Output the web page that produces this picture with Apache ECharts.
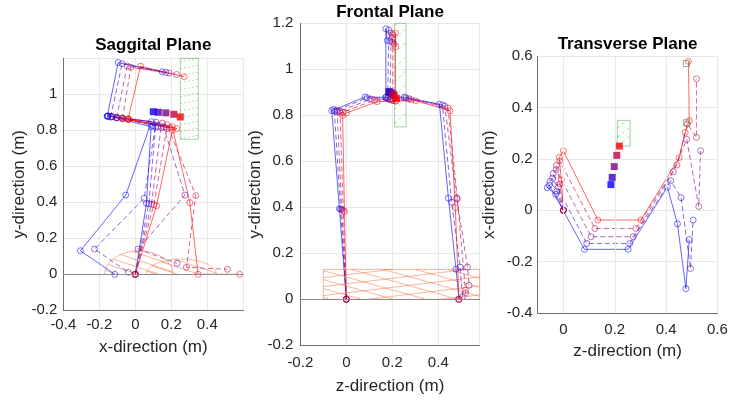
<!DOCTYPE html>
<html>
<head>
<meta charset="utf-8">
<script src="https://cdn.jsdelivr.net/npm/echarts@6/dist/echarts.min.js"></script>
<style>
  html, body { margin: 0; padding: 0; background: #fff; }
  #chart { width: 730px; height: 401px; }
</style>
</head>
<body>
<div id="chart"></div>
<script>
// Joint positions for five gait frames, each entry is [x, y, z] in metres.
const footL = [[0, 0, 0], [0, 0, 0], [0, 0, 0], [0, 0, 0], [0, 0, 0]];
const kneeL = [[0.062, 0.394, -0.030], [0.075, 0.392, -0.025], [0.090, 0.390, -0.020], [0.103, 0.387, -0.013], [0.118, 0.381, -0.008]];
const hipL = [[0.088, 0.820, -0.063], [0.113, 0.818, -0.052], [0.143, 0.815, -0.040], [0.175, 0.810, -0.027], [0.206, 0.800, -0.016]];
const hipL2 = [[0.098, 0.826, -0.055], [0.125, 0.822, -0.042], [0.158, 0.818, -0.028], [0.192, 0.814, -0.014], [0.231, 0.810, 0.000]];
const pelvisL = [[-0.152, 0.880, 0.082], [-0.129, 0.876, 0.091], [-0.103, 0.871, 0.108], [-0.071, 0.866, 0.123], [-0.038, 0.859, 0.134]];
const pelvisC = [[-0.156, 0.878, 0.172], [-0.137, 0.874, 0.180], [-0.104, 0.869, 0.190], [-0.071, 0.865, 0.202], [-0.040, 0.862, 0.215]];
const pelvisR = [[-0.152, 0.879, 0.252], [-0.129, 0.876, 0.259], [-0.103, 0.872, 0.272], [-0.071, 0.868, 0.282], [-0.038, 0.863, 0.302]];
const hipR = [[0.090, 0.848, 0.405], [0.115, 0.845, 0.418], [0.150, 0.840, 0.428], [0.176, 0.832, 0.442], [0.205, 0.820, 0.451]];
const kneeR = [[-0.053, 0.440, 0.444], [0.049, 0.422, 0.458], [0.276, 0.440, 0.480], [0.336, 0.437, 0.483], [0.303, 0.398, 0.474]];
const ankleR = [[-0.305, 0.131, 0.477], [-0.227, 0.140, 0.495], [0.015, 0.140, 0.527], [0.284, 0.039, 0.518], [0.349, 0.000, 0.490]];
const toeR = [[-0.114, 0.000, 0.490], [-0.038, 0.011, 0.505], [0.232, 0.061, 0.534], [0.512, 0.028, 0.518], [0.580, 0.000, 0.487]];
const trunkBack = [[-0.095, 1.176, 0.172], [-0.073, 1.170, 0.185], [-0.045, 1.157, 0.195], [-0.025, 1.150, 0.203], [0.029, 1.156, 0.213]];
const trunkFront = [[0.150, 1.125, 0.178], [0.169, 1.122, 0.190], [0.188, 1.118, 0.200], [0.229, 1.110, 0.208], [0.272, 1.098, 0.215]];

// Centre of mass per frame [x, y, z]
const comPos = [[0.100, 0.903, 0.185], [0.128, 0.900, 0.190], [0.170, 0.897, 0.198], [0.214, 0.889, 0.208], [0.250, 0.874, 0.218]];

// Foot targets seen from above [x, y, z]
const footTargets = [[0.571, 0, 0.479], [0.341, 0, 0.479]];

// Obstacle box and swing-foot envelope
const boxX = [0.25, 0.35];
const boxY = [0.75, 1.2];
const boxZ = [0.21, 0.26];
const sweepZ = [-0.1, 0.58];
const sweepY = [0, 0.13];
// swing arcs in the sagittal view: [centre x, half width, height]
const swingArcs = [[0.02, 0.19, 0.13], [0.255, 0.195, 0.085]];

// Axis ticks
const tickStep = 0.2;
const transGridZ = [0, 0.2, 0.4, 0.6];

const FRAME_COLORS = ['#0000ff', '#4000bf', '#800080', '#bf0040', '#ff0000'];
const FONT = '"Liberation Sans", Arial, Helvetica, sans-serif';
const TXT = '#262626';

const joints = {
  footL, kneeL, hipL, hipL2, pelvisL, pelvisC, pelvisR, hipR, kneeR, ankleR, toeR, trunkBack, trunkFront
};
const legChain = ['footL', 'kneeL', 'hipL', 'hipL2', 'pelvisL', 'pelvisC', 'pelvisR', 'hipR', 'kneeR', 'ankleR', 'toeR'];
const trunkChain = ['pelvisC', 'trunkBack', 'trunkFront'];
const topChain = ['footL', 'kneeL', 'hipL', 'hipL2', 'pelvisL', 'pelvisR', 'hipR', 'kneeR', 'ankleR', 'toeR'];

const VIEWS = {
  sag: p => [p[0], p[1]],
  fro: p => [p[2], p[1]],
  tra: p => [p[2], p[0]]
};

function tickFmt(v) {
  const k = v / tickStep;
  if (Math.abs(k - Math.round(k)) > 1e-6) return '';
  const r = Math.round(v * 10) / 10;
  return String(r === 0 ? 0 : r);
}

function makeAxis(g, min, max, interval, name, gap, margin, extra) {
  return Object.assign({
    gridIndex: g, type: 'value', min, max, interval,
    name, nameLocation: 'middle', nameGap: gap,
    nameTextStyle: { fontSize: 17, color: TXT, fontFamily: FONT },
    axisLine: { show: true, onZero: false, lineStyle: { color: '#6e6e6e', width: 1 } },
    axisTick: { show: false },
    splitLine: { show: true, lineStyle: { color: '#e8e8e8', width: 1 } },
    axisLabel: { formatter: tickFmt, fontSize: 15, color: TXT, fontFamily: FONT, margin }
  }, extra || {});
}

function chainSeries(chain, frame, view, g) {
  const c = FRAME_COLORS[frame];
  const dashed = frame > 0 && frame < 4;
  return {
    type: 'line', xAxisIndex: g, yAxisIndex: g, silent: true, clip: false,
    data: chain.map(j => VIEWS[view](joints[j][frame])),
    symbol: 'circle', symbolSize: 6, showSymbol: true, z: 3,
    lineStyle: { color: c, width: 1, opacity: 0.6, type: dashed ? [5, 3] : 'solid' },
    itemStyle: { color: 'rgba(0,0,0,0)', borderColor: c, borderWidth: 0.9, opacity: 0.6 }
  };
}

// Hatch lines clipped to a region, computed in pixel space
function hatch(inside, bx0, by0, bx1, by1, slope, spacing) {
  const segs = [];
  const span = Math.abs(slope) * (bx1 - bx0);
  for (let c = by0 - span - spacing; c <= by1 + span + spacing; c += spacing) {
    let run = null;
    for (let x = bx0; x <= bx1 + 0.01; x += 0.5) {
      const y = c + slope * (x - bx0);
      if (inside(x, y)) {
        if (!run) run = [[x, y], [x, y]]; else run[1] = [x, y];
      } else if (run) { segs.push(run); run = null; }
    }
    if (run) segs.push(run);
  }
  return segs;
}

function segShapes(segs, stroke, dash) {
  return segs.map(s => ({
    type: 'polyline', shape: { points: s },
    style: { stroke, fill: 'none', lineWidth: 1, lineDash: dash || null }
  }));
}

function boxRender(xr, yr, stroke, families) {
  return function (params, api) {
    const p0 = api.coord([xr[0], yr[1]]);
    const p1 = api.coord([xr[1], yr[0]]);
    const inside = (x, y) => x >= p0[0] && x <= p1[0] && y >= p0[1] && y <= p1[1];
    let children = [{
      type: 'rect', shape: { x: p0[0], y: p0[1], width: p1[0] - p0[0], height: p1[1] - p0[1] },
      style: { stroke, fill: 'none', lineWidth: 1 }
    }];
    families.forEach(f => {
      children = children.concat(segShapes(hatch(inside, p0[0], p0[1], p1[0], p1[1], f.slope, f.spacing), f.color || stroke, f.dash));
    });
    return { type: 'group', children };
  };
}

const ORANGE = 'rgba(240,110,60,0.5)';
const GREEN = 'rgba(70,170,70,0.5)';

function arcsRender(params, api) {
  let children = [];
  swingArcs.forEach(a => {
    const c = api.coord([a[0], 0]);
    const rx = Math.abs(api.coord([a[0] + a[1], 0])[0] - c[0]);
    const ry = Math.abs(api.coord([a[0], a[2]])[1] - c[1]);
    const pts = [];
    for (let i = 0; i <= 60; i++) {
      const t = Math.PI * i / 60;
      pts.push([c[0] - rx * Math.cos(t), c[1] - ry * Math.sin(t)]);
    }
    children.push({ type: 'polyline', shape: { points: pts }, style: { stroke: ORANGE, fill: 'none', lineWidth: 1 } });
    const inside = (x, y) => y <= c[1] && ((x - c[0]) / rx) ** 2 + ((y - c[1]) / ry) ** 2 <= 1;
    children = children.concat(segShapes(hatch(inside, c[0] - rx, c[1] - ry, c[0] + rx, c[1], 0.33, 7), ORANGE));
  });
  return { type: 'group', children };
}

function customSeries(g, renderItem) {
  return { type: 'custom', xAxisIndex: g, yAxisIndex: g, silent: true, z: 1, data: [[0, 0]], renderItem };
}

function gridLinesSeries(g, axisKey, values, color, z) {
  return {
    type: 'line', xAxisIndex: g, yAxisIndex: g, data: [], silent: true, z: z || 0,
    markLine: {
      silent: true, symbol: 'none', label: { show: false }, animation: false,
      lineStyle: { color, type: 'solid', width: 1 },
      data: values.map(v => ({ [axisKey]: v }))
    }
  };
}

function comSeries(view, g) {
  return {
    type: 'scatter', xAxisIndex: g, yAxisIndex: g, silent: true, z: 6,
    data: comPos.map((p, i) => ({ value: VIEWS[view](p), itemStyle: { color: FRAME_COLORS[i] } })),
    symbol: 'rect', symbolSize: 7
  };
}

const series = [];
// reference lines
series.push(gridLinesSeries(0, 'yAxis', [0], '#8c8c8c', 2));
series.push(gridLinesSeries(1, 'yAxis', [0], '#8c8c8c', 2));
series.push(gridLinesSeries(2, 'xAxis', transGridZ, '#e8e8e8', 0));
// obstacle and swing envelopes
series.push(customSeries(0, boxRender(boxX, boxY, GREEN, [{ slope: -0.2, spacing: 7, dash: [1.5, 2.5] }])));
series.push(customSeries(0, arcsRender));
series.push(customSeries(1, boxRender(boxZ, boxY, GREEN, [{ slope: -1, spacing: 14, dash: [3, 3] }])));
series.push(customSeries(1, boxRender(sweepZ, sweepY, ORANGE, [{ slope: 0.28, spacing: 9 }, { slope: -0.12, spacing: 9 }])));
series.push(customSeries(2, boxRender(boxZ, boxX, GREEN, [{ slope: -0.8, spacing: 9, dash: [3, 3] }])));
// skeleton frames
for (let f = 0; f < 5; f++) {
  series.push(chainSeries(legChain, f, 'sag', 0));
  series.push(chainSeries(trunkChain, f, 'sag', 0));
  series.push(chainSeries(legChain, f, 'fro', 1));
  series.push(chainSeries(trunkChain, f, 'fro', 1));
  series.push(chainSeries(topChain, f, 'tra', 2));
}
// foot targets
series.push({
  type: 'scatter', xAxisIndex: 2, yAxisIndex: 2, silent: true, z: 5,
  data: footTargets.map(p => VIEWS.tra(p)),
  symbol: 'rect', symbolSize: 6,
  itemStyle: { color: 'rgba(0,0,0,0)', borderColor: '#5aa85a', borderWidth: 1 }
});
series.push(comSeries('sag', 0));
series.push(comSeries('fro', 1));
series.push(comSeries('tra', 2));

const titleStyle = (text, x, y) => ({
  type: 'text', x, y,
  style: { text, fontSize: 17, fontWeight: 'bold', fontFamily: FONT, fill: '#000', align: 'center', verticalAlign: 'middle' }
});

const option = {
  animation: false,
  backgroundColor: '#fff',
  grid: [
    { left: 63.3, top: 58.3, width: 180, height: 252, containLabel: false, outerBoundsMode: 'none' },
    { left: 300.3, top: 23.3, width: 179.4, height: 322, containLabel: false, outerBoundsMode: 'none' },
    { left: 537.7, top: 56.2, width: 179.8, height: 256.8, containLabel: false, outerBoundsMode: 'none' }
  ],
  xAxis: [
    makeAxis(0, -0.4, 0.6, 0.2, 'x-direction (m)', 29, 7, { axisLabel: { formatter: tickFmt, fontSize: 15, color: TXT, fontFamily: FONT, margin: 7, showMaxLabel: false } }),
    makeAxis(1, -0.2, 0.58, 0.2, 'z-direction (m)', 33, 10),
    makeAxis(2, -0.1, 0.6, 0.1, 'z-direction (m)', 30, 9, { splitLine: { show: false } })
  ],
  yAxis: [
    makeAxis(0, -0.2, 1.2, 0.2, 'y-direction (m)', 31, 6, { axisLabel: { formatter: tickFmt, fontSize: 15, color: TXT, fontFamily: FONT, margin: 6, showMaxLabel: false } }),
    makeAxis(1, -0.2, 1.2, 0.2, 'y-direction (m)', 35, 7),
    makeAxis(2, -0.4, 0.6, 0.2, 'x-direction (m)', 40, 5)
  ],
  graphic: [
    titleStyle('Saggital Plane', 153.3, 45),
    titleStyle('Frontal Plane', 390, 12),
    titleStyle('Transverse Plane', 627.6, 44)
  ],
  series
};

const chart = echarts.init(document.getElementById('chart'), null, { renderer: 'canvas' });
chart.setOption(option);
</script>
</body>
</html>
